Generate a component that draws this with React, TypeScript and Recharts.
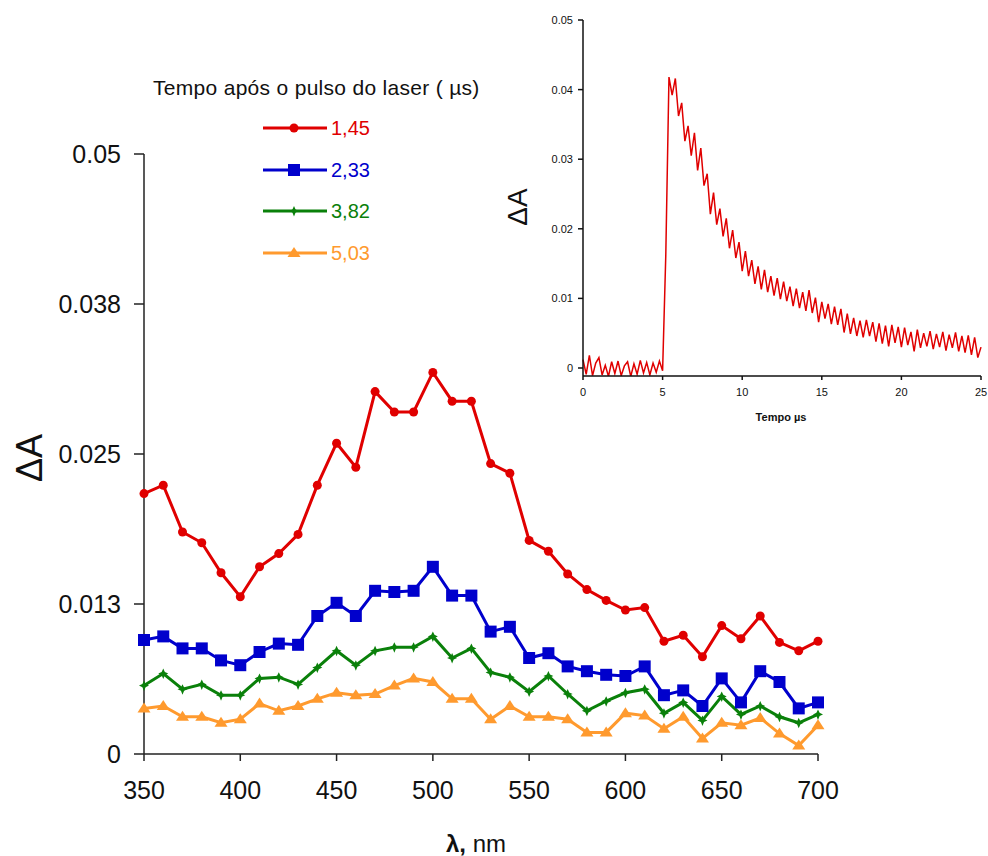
import React from "react";
import { LineChart, Line, XAxis, YAxis, Legend, Label } from "recharts";

// wavelength (nm) of each measured point
const wavelengths = [
  350, 360, 370, 380, 390, 400, 410, 420, 430, 440, 450, 460, 470, 480, 490, 500, 510, 520,
  530, 540, 550, 560, 570, 580, 590, 600, 610, 620, 630, 640, 650, 660, 670, 680, 690, 700,
];

// ΔA for each delay after the laser pulse
const delay145 = [
  0.0217, 0.0224, 0.0185, 0.0176, 0.0151, 0.0131, 0.0156, 0.0167, 0.0183, 0.0224, 0.0259, 0.0239,
  0.0302, 0.0285, 0.0285, 0.0318, 0.0294, 0.0294, 0.0242, 0.0234, 0.0178, 0.0169, 0.015, 0.0137,
  0.0128, 0.012, 0.0122, 0.0094, 0.0099, 0.0081, 0.0107, 0.0096, 0.0115, 0.0093, 0.0086, 0.0094,
];
const delay233 = [
  0.0095, 0.0098, 0.0088, 0.0088, 0.0078, 0.0074, 0.0085, 0.0092, 0.0091, 0.0115, 0.0126, 0.0115,
  0.0136, 0.0135, 0.0136, 0.0156, 0.0132, 0.0132, 0.0102, 0.0106, 0.008, 0.0084, 0.0073, 0.0069,
  0.0066, 0.0065, 0.0073, 0.0049, 0.0053, 0.004, 0.0063, 0.0043, 0.0069, 0.006, 0.0038, 0.0043,
];
const delay382 = [
  0.0057, 0.0067, 0.0054, 0.0058, 0.0049, 0.0049, 0.0063, 0.0064, 0.0058, 0.0072, 0.0086, 0.0074,
  0.0086, 0.0089, 0.0089, 0.0098, 0.008, 0.0088, 0.0068, 0.0064, 0.0052, 0.0065, 0.005, 0.0036,
  0.0044, 0.0051, 0.0054, 0.0034, 0.0043, 0.0028, 0.0048, 0.0033, 0.004, 0.0031, 0.0026, 0.0033,
];
const delay503 = [
  0.0038, 0.004, 0.0031, 0.0031, 0.0026, 0.0029, 0.0042, 0.0036, 0.004, 0.0046, 0.0051, 0.0049,
  0.005, 0.0057, 0.0063, 0.006, 0.0046, 0.0046, 0.0029, 0.004, 0.0031, 0.0031, 0.0029, 0.0018,
  0.0018, 0.0034, 0.0032, 0.0021, 0.0031, 0.0013, 0.0026, 0.0024, 0.003, 0.0017, 0.0007, 0.0024,
];

const spectrumTicksX = [350, 400, 450, 500, 550, 600, 650, 700];
const spectrumTicksY = [0, 0.0125, 0.025, 0.0375, 0.05];
const spectrumTickLabelsY = ["0", "0.013", "0.025", "0.038", "0.05"];

const legendTitle = "Tempo após o pulso do laser ( µs)";
const delayLabels = ["1,45", "2,33", "3,82", "5,03"];

// inset: decay trace at one wavelength, sampled every 0.2 µs
const kineticsStep = 0.2;
const kineticsSignal = [
  0.0012, -0.0009, 0.0018, -0.0011, 0.0007, 0.0015, -0.001, 0.0004, -0.0012, 0.0009,
  -0.0008, 0.001, -0.0011, 0.0003, 0.0009, -0.0012, 0.0006, -0.0009, 0.0011, -0.0007,
  0.0008, -0.001, 0.0007, -0.0006, 0.001, -0.0004, 0.0162, 0.0418, 0.0392, 0.0416,
  0.0362, 0.0381, 0.0326, 0.0348, 0.0305, 0.0338, 0.0284, 0.0316, 0.0262, 0.0279,
  0.0221, 0.0252, 0.0206, 0.0229, 0.0189, 0.0215, 0.0172, 0.0198, 0.0158, 0.0181,
  0.0139, 0.0168, 0.0132, 0.0155, 0.0121, 0.0146, 0.0113, 0.0141, 0.0109, 0.0132,
  0.0104, 0.0129, 0.0099, 0.0124, 0.0096, 0.0117, 0.0089, 0.0114, 0.0086, 0.0109,
  0.0082, 0.0112, 0.0079, 0.0101, 0.0066, 0.0095, 0.0071, 0.0092, 0.0063, 0.0088,
  0.0062, 0.0085, 0.0051, 0.0078, 0.0049, 0.0072, 0.0046, 0.0068, 0.0044, 0.0069,
  0.0046, 0.0066, 0.0038, 0.0064, 0.0035, 0.0061, 0.0031, 0.0062, 0.0036, 0.0059,
  0.003, 0.0058, 0.0033, 0.0052, 0.0024, 0.0055, 0.0029, 0.005, 0.0031, 0.0053,
  0.0027, 0.0049, 0.003, 0.0052, 0.0025, 0.0048, 0.0029, 0.0051, 0.0024, 0.0046,
  0.0022, 0.0047, 0.0019, 0.0044, 0.0015, 0.003,
];
const kineticsTicksX = [0, 5, 10, 15, 20, 25];
const kineticsTicksY = [0, 0.01, 0.02, 0.03, 0.04, 0.05];

const FONT = "'Liberation Sans', Arial, sans-serif";

type Shape = "circle" | "square" | "star" | "triangle";

const seriesStyle: { key: string; color: string; shape: Shape }[] = [
  { key: "d145", color: "#e00000", shape: "circle" },
  { key: "d233", color: "#0000cc", shape: "square" },
  { key: "d382", color: "#0a800a", shape: "star" },
  { key: "d503", color: "#ff9a2e", shape: "triangle" },
];

const spectrumData = wavelengths.map((nm, i) => ({
  nm,
  d145: delay145[i],
  d233: delay233[i],
  d382: delay382[i],
  d503: delay503[i],
}));

const kineticsData = kineticsSignal.map((v, i) => ({
  t: Math.round(i * kineticsStep * 10) / 10,
  dA: v,
}));

function Marker({ shape, cx, cy, color }: { shape: Shape; cx: number; cy: number; color: string }) {
  if (cx == null || cy == null) return null;
  switch (shape) {
    case "circle":
      return <circle cx={cx} cy={cy} r={4.5} fill={color} />;
    case "square":
      return <rect x={cx - 6} y={cy - 6} width={12} height={12} fill={color} />;
    case "star":
      return (
        <polygon
          fill={color}
          points={`${cx},${cy - 5} ${cx + 1.6},${cy - 1.6} ${cx + 5},${cy} ${cx + 1.6},${cy + 1.6} ${cx},${cy + 5.5} ${cx - 1.6},${cy + 1.6} ${cx - 5},${cy} ${cx - 1.6},${cy - 1.6}`}
        />
      );
    default:
      return <polygon fill={color} points={`${cx},${cy - 6} ${cx + 6.5},${cy + 4} ${cx - 6.5},${cy + 4}`} />;
  }
}

const renderLegend = () => (
  <div style={{ position: "relative", width: 500, height: 280, fontFamily: FONT }}>
    <div
      style={{
        position: "absolute",
        left: 153,
        top: 76,
        fontSize: 21,
        letterSpacing: 0.3,
        lineHeight: "24px",
        color: "#111",
        whiteSpace: "nowrap",
      }}
    >
      {legendTitle}
    </div>
    {seriesStyle.map((s, i) => (
      <div
        key={s.key}
        style={{
          position: "absolute",
          left: 262,
          top: 116 + i * 41.7,
          height: 24,
          display: "flex",
          alignItems: "center",
        }}
      >
        <svg width={66} height={24}>
          <line x1={1} y1={12} x2={65} y2={12} stroke={s.color} strokeWidth={3} />
          <Marker shape={s.shape} cx={32} cy={12} color={s.color} />
        </svg>
        <span style={{ color: s.color, fontSize: 20, lineHeight: "24px", marginLeft: 3 }}>
          {delayLabels[i]}
        </span>
      </div>
    ))}
  </div>
);

export default function App() {
  return (
    <div style={{ position: "absolute", left: 0, top: 0, width: 988, height: 856, background: "#fff" }}>
      <LineChart
        width={988}
        height={856}
        data={spectrumData}
        margin={{ top: 154, right: 170, bottom: 57, left: 74 }}
      >
        <XAxis
          dataKey="nm"
          type="number"
          domain={[350, 700]}
          ticks={spectrumTicksX}
          stroke="#222"
          strokeWidth={1.5}
          tickSize={7}
          tickMargin={20}
          height={45}
          tick={{ fontSize: 25, fill: "#111", fontFamily: FONT }}
        >
          <Label
            content={() => (
              <text x={476} y={852} textAnchor="middle" fontSize={24} fill="#111" fontFamily={FONT}>
                <tspan fontWeight="bold">λ,</tspan> nm
              </text>
            )}
          />
        </XAxis>
        <YAxis
          type="number"
          domain={[0, 0.05]}
          ticks={spectrumTicksY}
          tickFormatter={(v: number) => spectrumTickLabelsY[spectrumTicksY.indexOf(v)]}
          width={70}
          stroke="#222"
          strokeWidth={1.5}
          tickSize={10}
          tickMargin={13}
          tick={{ fontSize: 25, fill: "#111", fontFamily: FONT }}
        >
          <Label
            content={() => (
              <text
                x={29}
                y={458}
                transform="rotate(-90 29 458)"
                textAnchor="middle"
                dominantBaseline="central"
                fontSize={36}
                fill="#111"
                fontFamily={FONT}
              >
                ΔA
              </text>
            )}
          />
        </YAxis>
        <Legend layout="horizontal" verticalAlign="middle" content={renderLegend} wrapperStyle={{ left: 0, top: 0, width: 500, height: 280 }} />
        {seriesStyle.map((s) => (
          <Line
            key={s.key}
            dataKey={s.key}
            type="linear"
            stroke={s.color}
            strokeWidth={3}
            isAnimationActive={false}
            dot={(p: any) => (
              <Marker key={`${s.key}-${p.index}`} shape={s.shape} cx={p.cx} cy={p.cy} color={s.color} />
            )}
            activeDot={false}
          />
        ))}
      </LineChart>

      <div style={{ position: "absolute", left: 500, top: 0, width: 488, height: 430 }}>
        <LineChart
          width={488}
          height={430}
          data={kineticsData}
          margin={{ top: 20, right: 7, bottom: 24, left: 43 }}
        >
          <XAxis
            dataKey="t"
            type="number"
            domain={[0, 25]}
            ticks={kineticsTicksX}
            stroke="#111"
            strokeWidth={1.5}
            tickSize={4}
            tickMargin={8}
            height={30}
            tick={{ fontSize: 11, fill: "#111", fontFamily: FONT }}
          >
            <Label
              content={() => (
                <text x={281} y={421} textAnchor="middle" fontSize={11} fontWeight="bold" fill="#111" fontFamily={FONT}>
                  Tempo µs
                </text>
              )}
            />
          </XAxis>
          <YAxis
            type="number"
            domain={[-0.00115, 0.05]}
            allowDataOverflow
            ticks={kineticsTicksY}
            width={40}
            stroke="#111"
            strokeWidth={1.5}
            tickSize={5}
            tickMargin={5}
            tick={{ fontSize: 11, fill: "#111", fontFamily: FONT }}
          >
            <Label
              content={() => (
                <text
                  x={17}
                  y={207}
                  transform="rotate(-90 17 207)"
                  textAnchor="middle"
                  dominantBaseline="central"
                  fontSize={28}
                  fill="#111"
                  fontFamily={FONT}
                >
                  ΔA
                </text>
              )}
            />
          </YAxis>
          <Line
            dataKey="dA"
            type="linear"
            stroke="#e00000"
            strokeWidth={1.5}
            dot={false}
            activeDot={false}
            isAnimationActive={false}
          />
        </LineChart>
      </div>
    </div>
  );
}
